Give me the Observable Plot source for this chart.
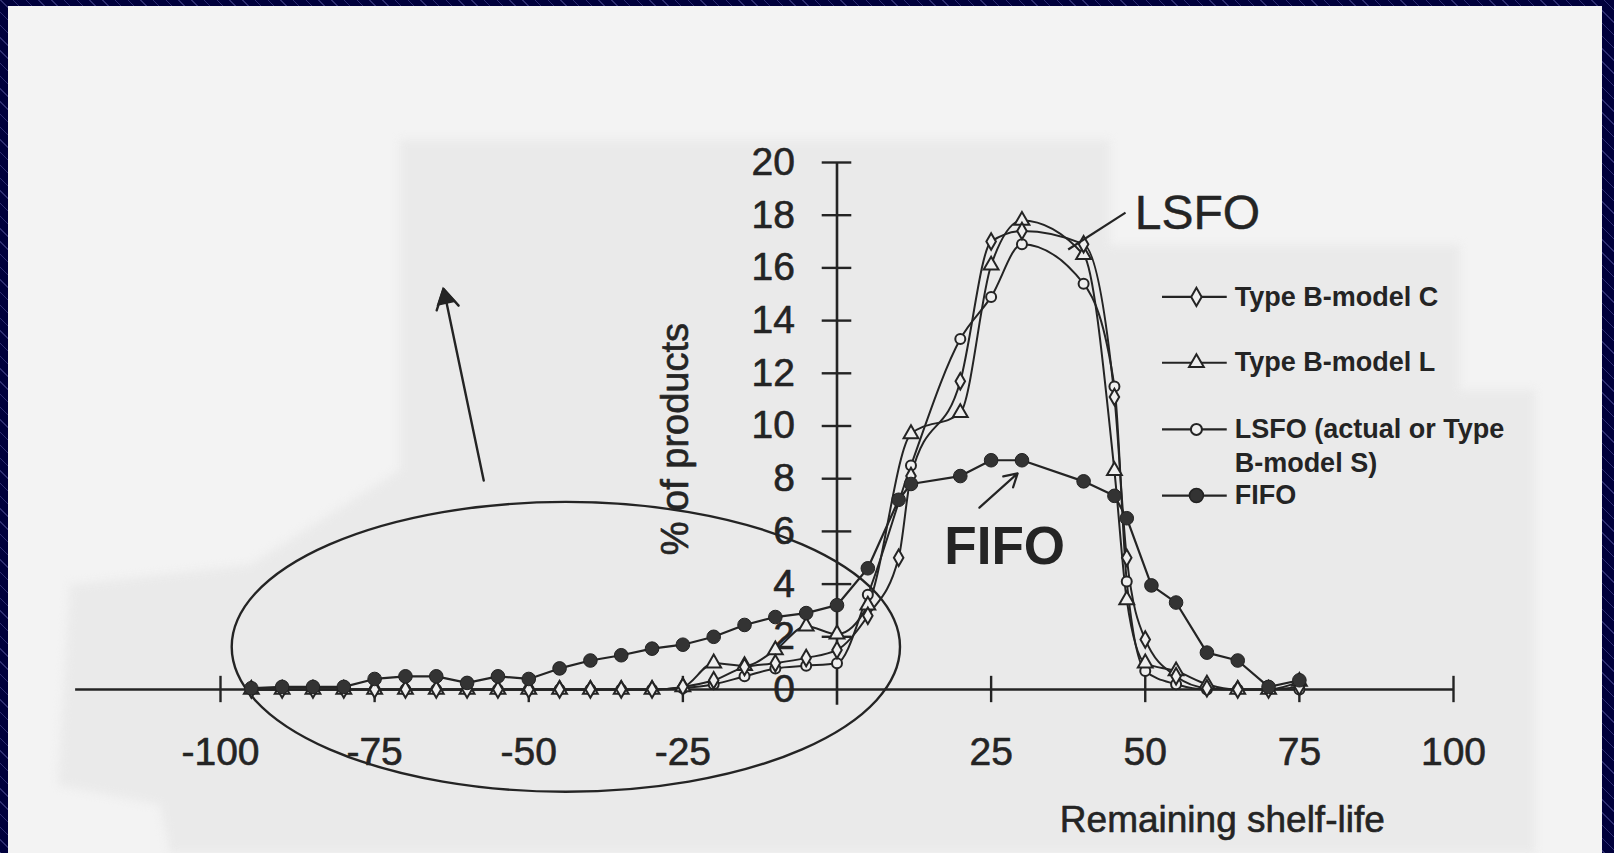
<!DOCTYPE html>
<html><head><meta charset="utf-8">
<script src="https://cdn.jsdelivr.net/npm/d3@7"></script>
<script src="https://cdn.jsdelivr.net/npm/@observablehq/plot@0.6"></script>
<style>
html,body{margin:0;padding:0;}
body{width:1614px;height:853px;overflow:hidden;position:relative;
 background-color:#00003c;
 background-image:repeating-linear-gradient(45deg, rgba(130,130,210,0.35) 0 1px, transparent 1px 9px);}
#page{position:absolute;left:8px;top:6px;width:1594px;height:847px;background:#f3f3f3;overflow:hidden;}
#soft{position:absolute;left:-8px;top:-6px;width:1614px;height:853px;filter:blur(4px);}
#scan{position:absolute;left:0;top:0;width:1614px;height:853px;background:#eaeaea;
 clip-path:polygon(400px 140px,1110px 140px,1110px 245px,1460px 245px,1460px 390px,1535px 390px,1535px 853px,170px 853px,160px 805px,58px 785px,70px 585px,250px 565px,400px 470px);}
#chart{position:absolute;left:0;top:0;}
</style></head>
<body><div id="page"><div id="soft"><div id="scan"></div></div></div><div id="chart"></div>
<script>
// ---- tick labels ----
const xTicks = [-100, -75, -50, -25, 0, 25, 50, 75, 100];
const yTicks = [0, 2, 4, 6, 8, 10, 12, 14, 16, 18, 20];

// ---- series (remaining shelf-life vs % of products) ----
const fifoX = [-95,-90,-85,-80,-75,-70,-65,-60,-55,-50,-45,-40,-35,-30,-25,-20,-15,-10,-5,0,5,10,12,20,25,30,40,45,47,51,55,60,65,70,75];
const fifoY = [0.05,0.1,0.1,0.1,0.4,0.5,0.5,0.25,0.5,0.4,0.8,1.1,1.3,1.55,1.7,2.0,2.45,2.75,2.9,3.2,4.6,7.2,7.8,8.1,8.7,8.7,7.9,7.35,6.5,3.95,3.3,1.4,1.1,0.1,0.35];

const modelCX = [-95,-90,-85,-80,-75,-70,-65,-60,-55,-50,-45,-40,-35,-30,-25,-20,-15,-10,-5,0,5,10,12,20,25,30,40,45,47,50,55,60,65,70,75];
const modelCY = [0,0,0,0,0,0,0,0,0,0,0,0,0,0,0.1,0.35,0.85,1.0,1.2,1.5,2.8,5.0,8.1,11.7,17.0,17.4,16.9,11.1,5.0,1.9,0.5,0.05,0,0,0.1];

const modelLX = [-95,-90,-85,-80,-75,-70,-65,-60,-55,-50,-45,-40,-35,-30,-25,-20,-15,-10,-5,0,5,12,20,25,30,40,45,47,50,55,60,65,70,75];
const modelLY = [0,0,0,0,0,0,0,0,0,0,0,0,0,0,0.1,1.0,0.9,1.5,2.4,2.1,3.2,9.7,10.5,16.1,17.8,16.5,8.3,3.4,1.0,0.7,0.2,0,0,0.3];

const lsfoX = [-95,-90,-85,-80,-75,-70,-65,-60,-55,-50,-45,-40,-35,-30,-25,-20,-15,-10,-5,0,5,12,20,25,30,40,45,47,50,55,60,65,70,75];
const lsfoY = [0,0,0,0,0,0,0,0,0,0,0,0,0,0,0.05,0.2,0.5,0.8,0.9,1.0,3.6,8.5,13.3,14.9,16.9,15.4,11.5,4.1,0.7,0.2,0,0,0,0];

const seriesNames = ["Type B-model C", "Type B-model L", "LSFO (actual or Type", "FIFO"];
const seriesNameCont = "B-model S)";
const annotations = ["LSFO", "FIFO"];
const yLabel = "% of products";
const xLabel = "Remaining shelf-life";
// highlight ellipse: center x, center y, radius x, radius y (data units)
const ellipseSpec = [-43.9, 1.6, 54.2, 5.5];

const font = "'Liberation Sans', Arial, Helvetica, sans-serif";
const ink = "#242424";
const paper = "#efefef";

const toRows = (xs, ys) => xs.map((x, i) => ({x, y: ys[i]}));
const fifo = toRows(fifoX, fifoY);
const modelC = toRows(modelCX, modelCY);
const modelL = toRows(modelLX, modelLY);
const lsfo = toRows(lsfoX, lsfoY);

const ellipseMark = (index, scales) => {
  const sx = scales.x, sy = scales.y;
  const [cx, cy, rx, ry] = ellipseSpec;
  const el = document.createElementNS("http://www.w3.org/2000/svg", "ellipse");
  el.setAttribute("cx", sx(cx));
  el.setAttribute("cy", sy(cy));
  el.setAttribute("rx", Math.abs(sx(cx + rx) - sx(cx)));
  el.setAttribute("ry", Math.abs(sy(cy + ry) - sy(cy)));
  el.setAttribute("fill", "none");
  el.setAttribute("stroke", ink);
  el.setAttribute("stroke-width", 2.4);
  return el;
};

// legend layout (data units)
const legX1 = 52.8, legX2 = 63.3, legM = 58.3, legT = 64.5;
const legRows = [14.9, 12.4, 9.87, 7.36];
const legSym = ["diamond", "triangle", "circle", "circle"];

const labelStyle = {fill: ink, stroke: ink, strokeWidth: 0.6};

const chart = Plot.plot({
  width: 1614, height: 853,
  marginLeft: 220, marginRight: 161, marginTop: 162, marginBottom: 164,
  x: {domain: [-100, 100], axis: null},
  y: {domain: [0, 20], axis: null},
  style: {background: "transparent", fontFamily: font, color: ink, overflow: "visible"},
  marks: [
    // axes
    Plot.ruleY([0], {x1: -123.5, x2: 100, stroke: ink, strokeWidth: 2.6}),
    Plot.ruleX([0], {y1: -0.6, y2: 20, stroke: ink, strokeWidth: 2.6}),
    Plot.ruleY(yTicks.filter(d => d !== 0), {y: d => d, x1: -2.4, x2: 2.4, stroke: ink, strokeWidth: 2.4}),
    Plot.ruleX(xTicks.filter(d => d !== 0), {x: d => d, y1: -0.5, y2: 0.5, stroke: ink, strokeWidth: 2.4}),
    Plot.text(yTicks, {x: 0, y: d => d, text: d => String(d), dx: -42, textAnchor: "end", fontSize: 39, ...labelStyle}),
    Plot.text(xTicks.filter(d => d !== 0), {x: d => d, y: 0, text: d => String(d), dy: 63, fontSize: 39, ...labelStyle}),
    Plot.text([yLabel], {x: -26.2, y: 9.5, text: d => d, rotate: -90, fontSize: 38, ...labelStyle}),
    Plot.text([xLabel], {x: 62.5, y: -4.97, text: d => d, fontSize: 37, ...labelStyle}),
    // highlight ellipse
    ellipseMark,
    // lines
    Plot.line(fifo, {x: "x", y: "y", stroke: ink, strokeWidth: 2.2}),
    Plot.line(modelC, {x: "x", y: "y", stroke: ink, strokeWidth: 2, curve: "monotone-x"}),
    Plot.line(modelL, {x: "x", y: "y", stroke: ink, strokeWidth: 2, curve: "monotone-x"}),
    Plot.line(lsfo, {x: "x", y: "y", stroke: ink, strokeWidth: 2, curve: "monotone-x"}),
    // markers
    Plot.dot(lsfo, {x: "x", y: "y", symbol: "circle", r: 5, fill: paper, stroke: ink, strokeWidth: 2}),
    Plot.dot(modelL, {x: "x", y: "y", symbol: "triangle", r: 5.5, fill: paper, stroke: ink, strokeWidth: 2}),
    Plot.dot(modelC, {x: "x", y: "y", symbol: "diamond", r: 5, fill: paper, stroke: ink, strokeWidth: 2}),
    Plot.dot(fifo, {x: "x", y: "y", symbol: "circle", r: 6.8, fill: "#333", stroke: "#222", strokeWidth: 1}),
    // annotations
    Plot.text([annotations[0]], {x: 48.3, y: 18.05, text: d => d, textAnchor: "start", fontSize: 48, ...labelStyle, strokeWidth: 0.4}),
    Plot.link([0], {x1: 46.8, y1: 18.1, x2: 37.5, y2: 16.7, stroke: ink, strokeWidth: 2.2}),
    Plot.text([annotations[1]], {x: 27.2, y: 5.39, text: d => d, fontSize: 53, fontWeight: "bold", fill: ink}),
    Plot.arrow([0], {x1: 23.1, y1: 6.9, x2: 29.3, y2: 8.2, stroke: ink, strokeWidth: 2.2, headLength: 10, bend: 0}),
    Plot.arrow([0], {x1: -57.3, y1: 7.93, x2: -63.8, y2: 15.2, stroke: ink, strokeWidth: 2.4, headLength: 14, bend: 0}),
    Plot.dot([0], {x: -63.55, y: 14.85, symbol: "triangle", r: 6.5, fill: ink, stroke: ink, rotate: -12}),
    // legend
    Plot.ruleY(legRows, {y: d => d, x1: legX1, x2: legX2, stroke: ink, strokeWidth: 2.2}),
    Plot.dot(legRows.slice(0, 3), {x: legM, y: d => d, symbol: (d, i) => legSym[i], r: 5.5, fill: paper, stroke: ink, strokeWidth: 2}),
    Plot.dot(legRows.slice(3), {x: legM, y: d => d, symbol: "circle", r: 7, fill: "#333", stroke: "#222"}),
    Plot.text(legRows, {x: legT, y: d => d, text: (d, i) => seriesNames[i], textAnchor: "start", fontSize: 27, fontWeight: "bold", fill: ink, letterSpacing: "-0.6px"}),
    Plot.text([seriesNameCont], {x: legT, y: 8.6, text: d => d, textAnchor: "start", fontSize: 27, fontWeight: "bold", fill: ink, letterSpacing: "-0.6px"})
  ]
});
document.getElementById("chart").appendChild(chart);
</script></body></html>
